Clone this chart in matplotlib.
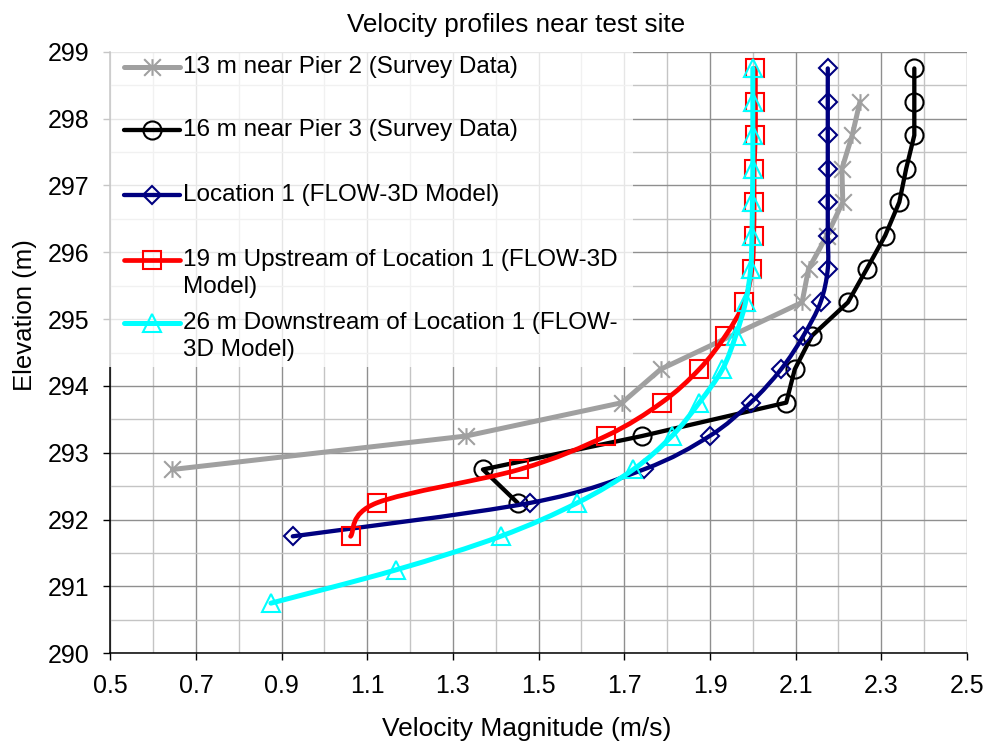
import numpy as np
import matplotlib
matplotlib.use("Agg")
import matplotlib.pyplot as plt
from matplotlib.path import Path
from matplotlib.patches import PathPatch, Rectangle
from matplotlib.lines import Line2D

plt.rcParams['font.family'] = ['Liberation Sans', 'DejaVu Sans']

# data
elev_pier2 = [292.75, 293.25, 293.75, 294.25, 295.25, 295.75, 296.25, 296.75, 297.25, 297.75, 298.25]
vel_pier2 = [0.645, 1.33, 1.695, 1.785, 2.115, 2.13, 2.173, 2.21, 2.208, 2.232, 2.25]

elev_pier3 = [292.25, 292.75, 293.25, 293.75, 294.25, 294.75, 295.25, 295.75, 296.25,
              296.75, 297.25, 297.75, 298.25, 298.75]
vel_pier3 = [1.451, 1.37, 1.741, 2.078, 2.098, 2.138, 2.222, 2.266, 2.309,
             2.342, 2.358, 2.377, 2.377, 2.377]

elev_loc1 = [291.75, 292.25, 292.75, 293.25, 293.75, 294.25, 294.75, 295.25, 295.75,
             296.25, 296.75, 297.25, 297.75, 298.25, 298.75]
vel_loc1 = [0.926, 1.48, 1.745, 1.899, 1.995, 2.066, 2.118, 2.158, 2.175,
            2.175, 2.175, 2.175, 2.175, 2.175, 2.175]

elev_up19 = elev_loc1
vel_up19 = [1.061, 1.122, 1.455, 1.657, 1.787, 1.875, 1.936, 1.98, 1.998,
            2.002, 2.003, 2.003, 2.006, 2.006, 2.006]

elev_down26 = [290.75, 291.25] + elev_loc1
vel_down26 = [0.875, 1.168, 1.411, 1.59, 1.721, 1.811, 1.875, 1.929, 1.96, 1.983,
              1.995, 1.998, 1.999, 2.0, 2.0, 2.0, 2.0]

labels = ['13 m near Pier 2 (Survey Data)',
          '16 m near Pier 3 (Survey Data)',
          'Location 1 (FLOW-3D Model)',
          '19 m Upstream of Location 1 (FLOW-3D\nModel)',
          '26 m Downstream of Location 1 (FLOW-\n3D Model)']

# asterisk marker like Excel's (X plus vertical bar)
star = Path([(0, -1), (0, 1), (-1, -1), (1, 1), (-1, 1), (1, -1)],
            [Path.MOVETO, Path.LINETO] * 3)

series = [
    (vel_pier2, elev_pier2, '#a0a0a0', star, 3.6, False),
    (vel_pier3, elev_pier3, 'black', 'o', 3.1, False),
    (vel_loc1, elev_loc1, '#000080', 'D', 3.1, True),
    (vel_up19, elev_up19, '#ff0000', 's', 3.4, True),
    (vel_down26, elev_down26, '#00ffff', '^', 3.6, True),
]
msizes = {'o': 13, 'D': 9.5, 's': 13, '^': 13}


def smooth_path(x, y):
    # Catmull-Rom through the points, as Excel's smoothed line
    pts = np.column_stack([x, y])
    verts = [pts[0]]
    codes = [Path.MOVETO]
    n = len(pts)
    for i in range(n - 1):
        p0 = pts[i - 1] if i > 0 else pts[i]
        p1, p2 = pts[i], pts[i + 1]
        p3 = pts[i + 2] if i + 2 < n else pts[i + 1]
        verts += [p1 + (p2 - p0) / 6, p2 - (p3 - p1) / 6, p2]
        codes += [Path.CURVE4] * 3
    return Path(verts, codes)


fig = plt.figure(figsize=(9.9, 7.44), dpi=100)
ax = fig.add_axes([110.3 / 990, 1 - 653.3 / 744, (967 - 110.3) / 990, (653.3 - 51.7) / 744])

for i, (x, y, c, m, lw, smooth) in enumerate(series):
    z = 3 + i
    if smooth:
        ax.add_patch(PathPatch(smooth_path(x, y), fill=False, ec=c, lw=lw,
                               capstyle='round', joinstyle='round', zorder=z))
    else:
        ax.plot(x, y, color=c, lw=lw, solid_capstyle='round', solid_joinstyle='round', zorder=z)
    ms = 12 if m is star else msizes[m]
    ax.plot(x, y, ls='none', marker=m, ms=ms, mfc='none', mec=c, mew=1.5, zorder=z + 0.5)

ax.set_xlim(0.5, 2.5)
ax.set_ylim(290, 299)
ax.set_xticks(np.arange(0.5, 2.51, 0.2))
ax.set_xticks(np.arange(0.6, 2.5, 0.2), minor=True)
ax.set_yticks(np.arange(290, 299.1, 1))
ax.set_yticks(np.arange(290.5, 299, 1), minor=True)
ax.set_xticklabels(['%.1f' % v for v in np.arange(0.5, 2.51, 0.2)])
ax.grid(which='major', color='#8f8f8f', lw=1.0)
ax.grid(which='minor', color='#c4c4c4', lw=1.0)
ax.set_axisbelow(True)
ax.tick_params(which='major', direction='out', length=5, width=1, labelsize=18, pad=10)
ax.tick_params(which='minor', length=0)
for s in ['top', 'right']:
    ax.spines[s].set_visible(False)
for s in ['left', 'bottom']:
    ax.spines[s].set_linewidth(1.1)

fig.text(516 / 990, 1 - 31.7 / 744, 'Velocity profiles near test site', fontsize=18.8,
         ha='center', va='baseline')
fig.text(526.5 / 990, 1 - 736 / 744, 'Velocity Magnitude (m/s)', fontsize=19,
         ha='center', va='baseline')
fig.text(31.7 / 990, 1 - 315 / 744, 'Elevation (m)', fontsize=18.5, rotation=90,
         rotation_mode='anchor', ha='center', va='baseline')

# legend drawn by hand: translucent white box over the top-left corner
fig.add_artist(Rectangle((100 / 990, 1 - 367 / 744), (633 - 100) / 990, (367 - 45) / 744,
                         transform=fig.transFigure, fc='white', ec='none', alpha=0.78, zorder=5))
rows = [0.9739, 0.8694, 0.7611, 0.6539, 0.5489]
line_gap = 0.0445
for (x, y, c, m, lw, smooth), lab, ry in zip(series, labels, rows):
    fig.add_artist(Line2D([0.0165, 0.081], [ry, ry], transform=ax.transAxes, color=c, lw=lw,
                          solid_capstyle='round', zorder=6))
    ms = 12 if m is star else msizes[m]
    fig.add_artist(Line2D([0.049], [ry], transform=ax.transAxes, ls='none', marker=m, ms=ms,
                          mfc='none', mec=c, mew=1.5, zorder=6.5))
    for k, part in enumerate(lab.split('\n')):
        fig.text(0.085, ry - k * line_gap, part, transform=ax.transAxes, fontsize=17.5,
                 ha='left', va='center', zorder=7)

fig.savefig('out.png', dpi=100)
